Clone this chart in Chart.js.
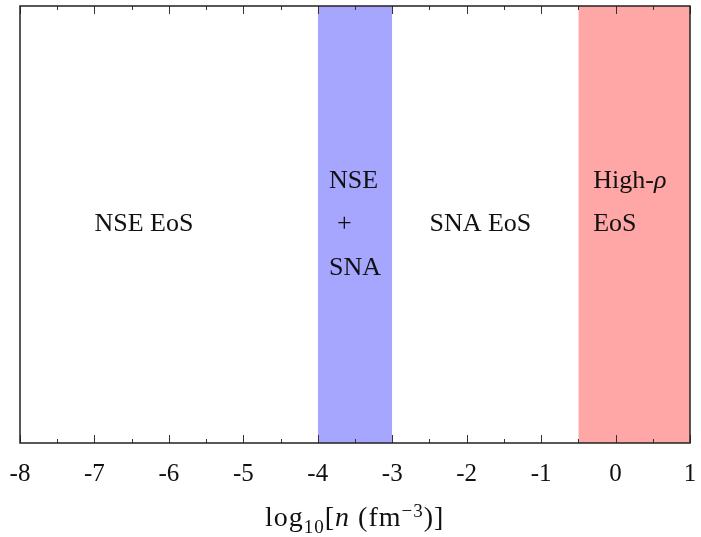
<!DOCTYPE html>
<html>
<head>
<meta charset="utf-8">
<script src="https://cdn.jsdelivr.net/npm/chart.js@4.4.0/dist/chart.umd.min.js"></script>
<style>
html,body{margin:0;padding:0;background:#fff;}
#wrap{width:701px;height:537px;}
</style>
</head>
<body>
<div id="wrap"><canvas id="c" width="701" height="537"></canvas></div>
<script>
// Axis range and tick settings
const xMin = -8;
const xMax = 1;
const xStep = 1;

// Shaded regions [start, end] in log10 n
const blueBand = [-4, -3];
const redBand = [-0.5, 1];

// Region labels: text lines, left x value, y values (0..1 fraction of plot)
const regionTexts = [
  {lines: ['NSE EoS'], x: -7.0, y: [0.5]},
  {lines: ['NSE', '+', 'SNA'], x: -3.85, y: [0.6, 0.5, 0.4]},
  {lines: ['SNA EoS'], x: -2.5, y: [0.5]},
  {lines: ['High-ρ', 'EoS'], x: -0.3, y: [0.6, 0.5]}
];

const SERIF = '"Liberation Serif", "DejaVu Serif", serif';
const TXT = 26;

function band(r) {
  return [{x: r[0], y: 1}, {x: r[1], y: 1}];
}

const overlay = {
  id: 'overlay',
  afterDatasetsDraw(chart) {
    const ctx = chart.ctx;
    const a = chart.chartArea;
    const xs = chart.scales.x;
    const ys = chart.scales.y;
    ctx.save();
    // ticks, inward on top and bottom
    ctx.strokeStyle = '#333';
    ctx.lineWidth = 1;
    for (let v = xMin; v <= xMax + 1e-9; v += 0.5) {
      const major = Math.abs(v - Math.round(v)) < 1e-9;
      const len = major ? 8 : 4;
      const px = Math.round(xs.getPixelForValue(v)) + 0.5;
      ctx.beginPath();
      ctx.moveTo(px, a.bottom); ctx.lineTo(px, a.bottom - len);
      ctx.moveTo(px, a.top); ctx.lineTo(px, a.top + len);
      ctx.stroke();
    }
    // frame
    ctx.lineWidth = 1.5;
    ctx.strokeStyle = '#222';
    ctx.strokeRect(a.left, a.top, a.right - a.left, a.bottom - a.top);
    // region texts
    ctx.fillStyle = '#111';
    ctx.textBaseline = 'middle';
    ctx.textAlign = 'left';
    regionTexts.forEach(r => {
      r.lines.forEach((t, i) => {
        const px = xs.getPixelForValue(r.x);
        const py = ys.getPixelForValue(r.y[i]);
        ctx.font = TXT + 'px ' + SERIF;
        if (t.endsWith('ρ')) {
          const pre = t.slice(0, -1);
          ctx.fillText(pre, px, py);
          const w = ctx.measureText(pre).width;
          ctx.font = 'italic ' + TXT + 'px ' + SERIF;
          ctx.fillText('ρ', px + w, py);
        } else if (t === '+') {
          ctx.fillText(t, px + 8, py);
        } else {
          ctx.fillText(t, px, py);
        }
      });
    });
    // axis title: log10[n (fm^-3)]
    const parts = [
      {t: 'log', f: '28px ' + SERIF, dy: 0},
      {t: '10', f: '19px ' + SERIF, dy: 7},
      {t: '[', f: '28px ' + SERIF, dy: 0},
      {t: 'n', f: 'italic 28px ' + SERIF, dy: 0},
      {t: ' (fm', f: '28px ' + SERIF, dy: 0},
      {t: '−3', f: '19px ' + SERIF, dy: -9},
      {t: ')]', f: '28px ' + SERIF, dy: 0}
    ];
    ctx.textBaseline = 'alphabetic';
    ctx.letterSpacing = '1px';
    let x0 = 265;
    const base = 526;
    parts.forEach(p => { ctx.font = p.f; ctx.fillText(p.t, x0, base + p.dy); x0 += ctx.measureText(p.t).width; });
    ctx.restore();
  }
};

new Chart(document.getElementById('c'), {
  type: 'line',
  data: {
    datasets: [
      {data: band(blueBand), fill: 'origin', backgroundColor: '#a6a6ff', borderWidth: 0, pointRadius: 0, tension: 0},
      {data: band(redBand), fill: 'origin', backgroundColor: '#ffa6a6', borderWidth: 0, pointRadius: 0, tension: 0}
    ]
  },
  options: {
    responsive: false,
    animation: false,
    layout: {padding: {left: 20, right: 11, top: 6, bottom: 0}},
    plugins: {legend: {display: false}, tooltip: {enabled: false}, filler: {propagate: false}},
    scales: {
      x: {
        type: 'linear', min: xMin, max: xMax,
        grid: {display: false, drawTicks: false},
        border: {display: false},
        ticks: {
          stepSize: xStep, autoSkip: false, maxRotation: 0, padding: 16,
          color: '#111', font: {family: SERIF, size: 25},
          callback: v => String(v)
        },
        afterFit: s => { s.height = 94; s.paddingLeft = 0; s.paddingRight = 0; }
      },
      y: {type: 'linear', min: 0, max: 1, display: false}
    }
  },
  plugins: [overlay]
});
</script>
</body>
</html>
